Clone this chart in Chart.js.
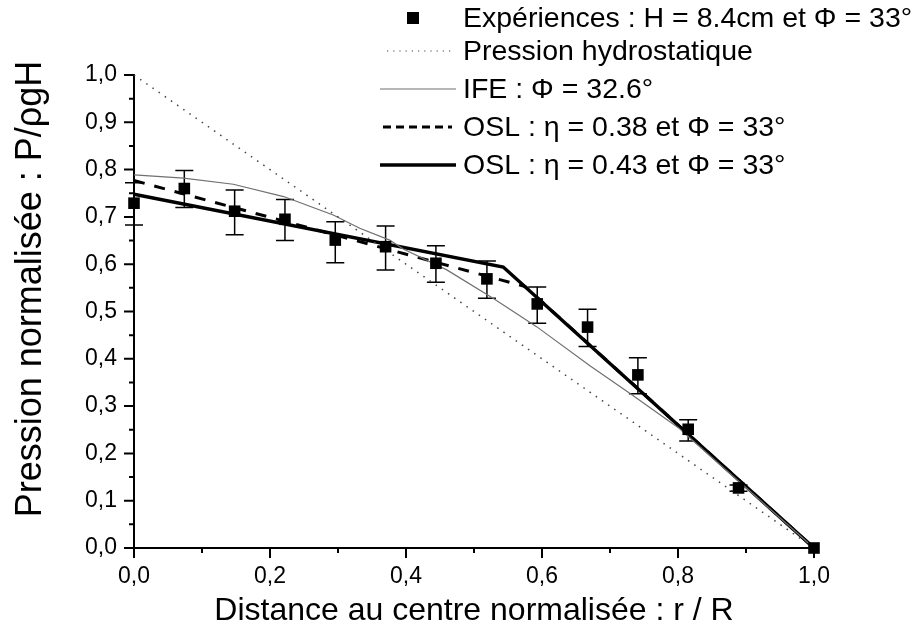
<!DOCTYPE html>
<html><head><meta charset="utf-8">
<script src="https://cdn.jsdelivr.net/npm/chart.js@4.4.1/dist/chart.umd.min.js"></script>
<style>html,body{margin:0;padding:0;background:#fff;} #wrap{width:912px;height:641px;position:relative;}</style>
</head><body><div id="wrap"><canvas id="c" width="912" height="641"></canvas></div>
<script>
// ---- data ----
const expX  = [0, 0.074, 0.148, 0.222, 0.296, 0.370, 0.444, 0.519, 0.593, 0.667, 0.741, 0.815, 0.889, 1.0];
const expY  = [0.729, 0.760, 0.712, 0.695, 0.651, 0.637, 0.602, 0.569, 0.516, 0.467, 0.366, 0.251, 0.127, 0.0];
const expHi = [0.772, 0.798, 0.757, 0.737, 0.690, 0.681, 0.639, 0.607, 0.552, 0.505, 0.402, 0.271, 0.133, 0.0];
const expLo = [0.683, 0.720, 0.662, 0.650, 0.603, 0.588, 0.562, 0.528, 0.475, 0.426, 0.326, 0.226, 0.120, 0.0];
const hydroX = [0, 1];
const hydroY = [1, 0];
const ifeX = [0, 0.073, 0.146, 0.220, 0.293, 0.332, 0.376, 0.396, 0.460, 0.528, 0.592, 0.671, 0.729, 0.800, 0.818, 1.0];
const ifeY = [0.789, 0.782, 0.769, 0.743, 0.704, 0.676, 0.651, 0.632, 0.588, 0.528, 0.468, 0.385, 0.327, 0.255, 0.232, 0.0];
const osl38X = [0, 0.575, 1];
const osl38Y = [0.777, 0.553, 0];
const osl43X = [0, 0.543, 1];
const osl43Y = [0.748, 0.594, 0];
const xMajorTicks = [0, 0.2, 0.4, 0.6, 0.8, 1.0];
const yMajorTicks = [0, 0.1, 0.2, 0.3, 0.4, 0.5, 0.6, 0.7, 0.8, 0.9, 1.0];
const labels = ['Expériences : H = 8.4cm et \u03A6 = 33°', 'Pression hydrostatique', 'IFE : \u03A6 = 32.6°',
                'OSL : \u03B7 = 0.38 et \u03A6 = 33°', 'OSL : \u03B7 = 0.43 et \u03A6 = 33°'];
const xTitle = 'Distance au centre normalisée : r / R';
const yTitle = 'Pression normalisée : P/\u03C1gH';

const pts = (xs, ys) => xs.map((v, i) => ({x: v, y: ys[i]}));
const FONT = "'Liberation Sans', Arial, sans-serif";

const drawPlugin = {
  id: 'custom',
  beforeDatasetsDraw(chart) {
    const {ctx, chartArea: ca, scales: {x, y}} = chart;
    ctx.save();
    ctx.strokeStyle = '#000'; ctx.lineWidth = 2; ctx.lineCap = 'butt';
    ctx.beginPath();
    ctx.moveTo(ca.left, ca.top - 1); ctx.lineTo(ca.left, ca.bottom); ctx.lineTo(ca.right + 1, ca.bottom);
    ctx.stroke();
    ctx.beginPath();
    for (let k = 0; k <= 20; k++) {
      const py = y.getPixelForValue(k * 0.05);
      const len = k % 2 === 0 ? 10 : 5;
      ctx.moveTo(ca.left - len, py); ctx.lineTo(ca.left, py);
    }
    for (let k = 0; k <= 10; k++) {
      const px = x.getPixelForValue(k * 0.1);
      const len = k % 2 === 0 ? 10 : 5;
      ctx.moveTo(px, ca.bottom); ctx.lineTo(px, ca.bottom + len);
    }
    ctx.stroke();
    // error bars
    ctx.lineWidth = 1.5;
    ctx.beginPath();
    expX.forEach((v, i) => {
      const px = x.getPixelForValue(v), hi = y.getPixelForValue(expHi[i]), lo = y.getPixelForValue(expLo[i]);
      if (Math.abs(lo - hi) < 1) return;
      ctx.moveTo(px, hi); ctx.lineTo(px, lo);
      ctx.moveTo(px - 9, hi); ctx.lineTo(px + 9, hi);
      ctx.moveTo(px - 9, lo); ctx.lineTo(px + 9, lo);
    });
    ctx.stroke();
    ctx.restore();
  },
  afterDraw(chart) {
    const {ctx, chartArea: ca} = chart;
    ctx.save();
    ctx.fillStyle = '#000';
    // axis titles
    ctx.font = '32px ' + FONT;
    ctx.textAlign = 'center'; ctx.textBaseline = 'middle';
    ctx.fillText(xTitle, (ca.left + ca.right) / 2, 611);
    ctx.save();
    ctx.translate(31, 289);
    ctx.rotate(-Math.PI / 2);
    ctx.font = '36px ' + FONT;
    ctx.fillText(yTitle, 0, 0);
    ctx.restore();
    // legend
    const rowsY = [18, 51, 89, 127, 165];
    const ds = chart.data.datasets;
    ctx.font = '28.5px ' + FONT;
    ctx.textAlign = 'left'; ctx.textBaseline = 'middle';
    ds.forEach((d, i) => {
      const ry = rowsY[i];
      ctx.save();
      if (i === 0) {
        ctx.fillStyle = '#000';
        ctx.fillRect(407, ry - 6, 12, 12);
      } else {
        ctx.strokeStyle = d.borderColor; ctx.lineWidth = d.borderWidth;
        let x0 = 380, x1 = 456;
        if (i === 1) { ctx.setLineDash([1.2, 5]); x0 = 387; x1 = 453; ctx.lineWidth = 1.2; }
        if (i === 3) { ctx.setLineDash([8, 5]); x0 = 383; x1 = 452; }
        ctx.beginPath(); ctx.moveTo(x0, ry); ctx.lineTo(x1, ry); ctx.stroke();
      }
      ctx.restore();
      ctx.fillText(d.label, 463, ry + 1);
    });
    ctx.restore();
  }
};

new Chart(document.getElementById('c'), {
  type: 'scatter',
  data: {
    datasets: [
      {label: labels[0], data: pts(expX, expY), showLine: false, pointStyle: 'rect', pointRadius: 8.2,
       pointHoverRadius: 8.2, backgroundColor: '#000', borderColor: '#000', borderWidth: 0, clip: false},
      {label: labels[1], data: pts(hydroX, hydroY), showLine: true, pointRadius: 0, borderColor: '#444',
       borderWidth: 1.5, borderDash: [1.5, 6], clip: false},
      {label: labels[2], data: pts(ifeX, ifeY), showLine: true, pointRadius: 0, borderColor: '#707070',
       borderWidth: 1.2, clip: false},
      {label: labels[3], data: pts(osl38X, osl38Y), showLine: true, pointRadius: 0, borderColor: '#000',
       borderWidth: 3, borderDash: [11, 10], clip: false},
      {label: labels[4], data: pts(osl43X, osl43Y), showLine: true, pointRadius: 0, borderColor: '#000',
       borderWidth: 3.5, clip: false}
    ]
  },
  options: {
    responsive: false, animation: false, devicePixelRatio: 1,
    layout: {padding: {top: 75, right: 98, left: 0, bottom: 0}},
    plugins: {legend: {display: false}, tooltip: {enabled: false}},
    scales: {
      x: {
        type: 'linear', min: 0, max: 1,
        afterFit: s => { s.height = 93; },
        afterBuildTicks: s => { s.ticks = xMajorTicks.map(v => ({value: v})); },
        grid: {display: false, drawTicks: false}, border: {display: false},
        ticks: {color: '#000', font: {family: FONT, size: 23}, padding: 15, maxRotation: 0,
                callback: v => v.toFixed(1).replace('.', ',')}
      },
      y: {
        type: 'linear', min: 0, max: 1,
        afterFit: s => { s.width = 134; },
        afterBuildTicks: s => { s.ticks = yMajorTicks.map(v => ({value: v})); },
        grid: {display: false, drawTicks: false}, border: {display: false},
        ticks: {color: '#000', font: {family: FONT, size: 23}, padding: 17,
                callback: v => v.toFixed(1).replace('.', ',')}
      }
    }
  },
  plugins: [drawPlugin]
});
</script>
</body></html>
